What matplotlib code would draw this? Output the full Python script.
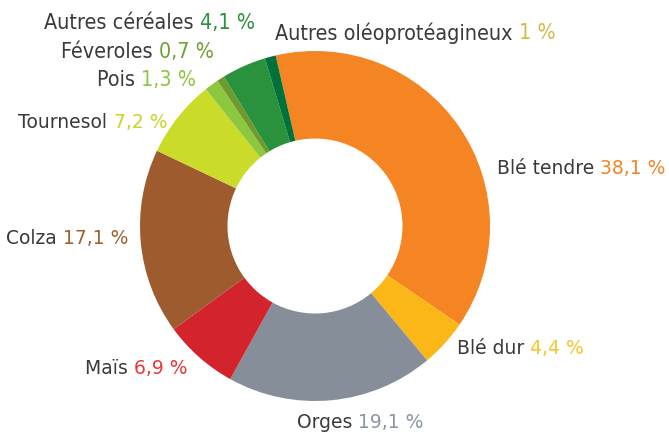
import matplotlib
matplotlib.use("Agg")
import matplotlib.pyplot as plt

# ---- data ----
categories = ["Blé tendre", "Blé dur", "Orges", "Maïs", "Colza", "Tournesol",
              "Pois", "Féveroles", "Autres céréales", "Autres oléoprotéagineux"]
shares = [38.1, 4.4, 19.1, 6.9, 17.1, 7.2, 1.3, 0.7, 4.1, 1.0]
slice_colors = ["#F58423", "#FBB718", "#868F99", "#D3232C", "#9E5B2E", "#CBDB2A",
                "#8DC63F", "#6F9A2D", "#2A913C", "#007239"]
value_colors = ["#F58423", "#F9C42A", "#8A96A3", "#E8363B", "#A0602E", "#C5D62C",
                "#8DC63F", "#6FA032", "#2A913C", "#D4B94A"]

W, H = 669, 434
fig = plt.figure(figsize=(W / 100, H / 100), dpi=100)
ax = fig.add_axes([0, 0, 1, 1])

cx, cy, R = 315, H - 226, 175
ax.pie(shares, colors=slice_colors, startangle=103, counterclock=False,
       center=(cx, cy), radius=R, wedgeprops=dict(width=R * 0.5, linewidth=0),
       frame=True)
ax.set_xlim(0, W)
ax.set_ylim(0, H)
ax.set_aspect('equal')
ax.axis('off')

main = dict(family=['DejaVu Sans'])
narrow = dict(family=['DejaVu Sans'], stretch='condensed')

# label layout: (x pixel, y center pixel, alignment, reference width px, font group)
layout = {
    "Blé tendre": (497, 169, 'left', 168, 'main'),
    "Blé dur": (457, 349, 'left', 128, 'main'),
    "Orges": (297, 422, 'left', None, 'main'),
    "Maïs": (187, 368, 'right', 102, 'main'),
    "Colza": (128, 238, 'right', 117, 'main'),
    "Tournesol": (167, 122, 'right', 155, 'main'),
    "Pois": (196, 80, 'right', 94, 'narrow'),
    "Féveroles": (214, 52, 'right', 152, 'narrow'),
    "Autres céréales": (255, 23, 'right', 210, 'narrow'),
    "Autres oléoprotéagineux": (275, 33, 'left', 292, 'narrow'),
}
fonts = {'main': main, 'narrow': narrow}

name_color = "#3a3a3a"
fig.canvas.draw()
renderer = fig.canvas.get_renderer()

# first pass: create texts and estimate a common size per group
items = []
fitted = {'main': [], 'narrow': []}
for cat, v, vc in zip(categories, shares, value_colors):
    x, y, al, tw, grp = layout[cat]
    vs = f"{v:g}".replace('.', ',') + " %"
    fs = 13.0
    t1 = ax.text(0, 0, cat + " ", fontsize=fs, color=name_color, va='center',
                 ha='left', **fonts[grp])
    t2 = ax.text(0, 0, vs, fontsize=fs, color=vc, va='center', ha='left', **fonts[grp])
    if tw is not None:
        w = t1.get_window_extent(renderer).width + t2.get_window_extent(renderer).width
        fitted[grp].append(fs * tw / w)
    items.append((t1, t2, x, y, al, grp))

sizes = {g: sum(s) / len(s) for g, s in fitted.items()}
for t1, t2, x, y, al, grp in items:
    t1.set_fontsize(sizes[grp])
    t2.set_fontsize(sizes[grp])
    w1 = t1.get_window_extent(renderer).width
    w2 = t2.get_window_extent(renderer).width
    x0 = x if al == 'left' else x - (w1 + w2)
    t1.set_position((x0, H - y))
    t2.set_position((x0 + w1, H - y))

fig.savefig("out.png", dpi=100)
